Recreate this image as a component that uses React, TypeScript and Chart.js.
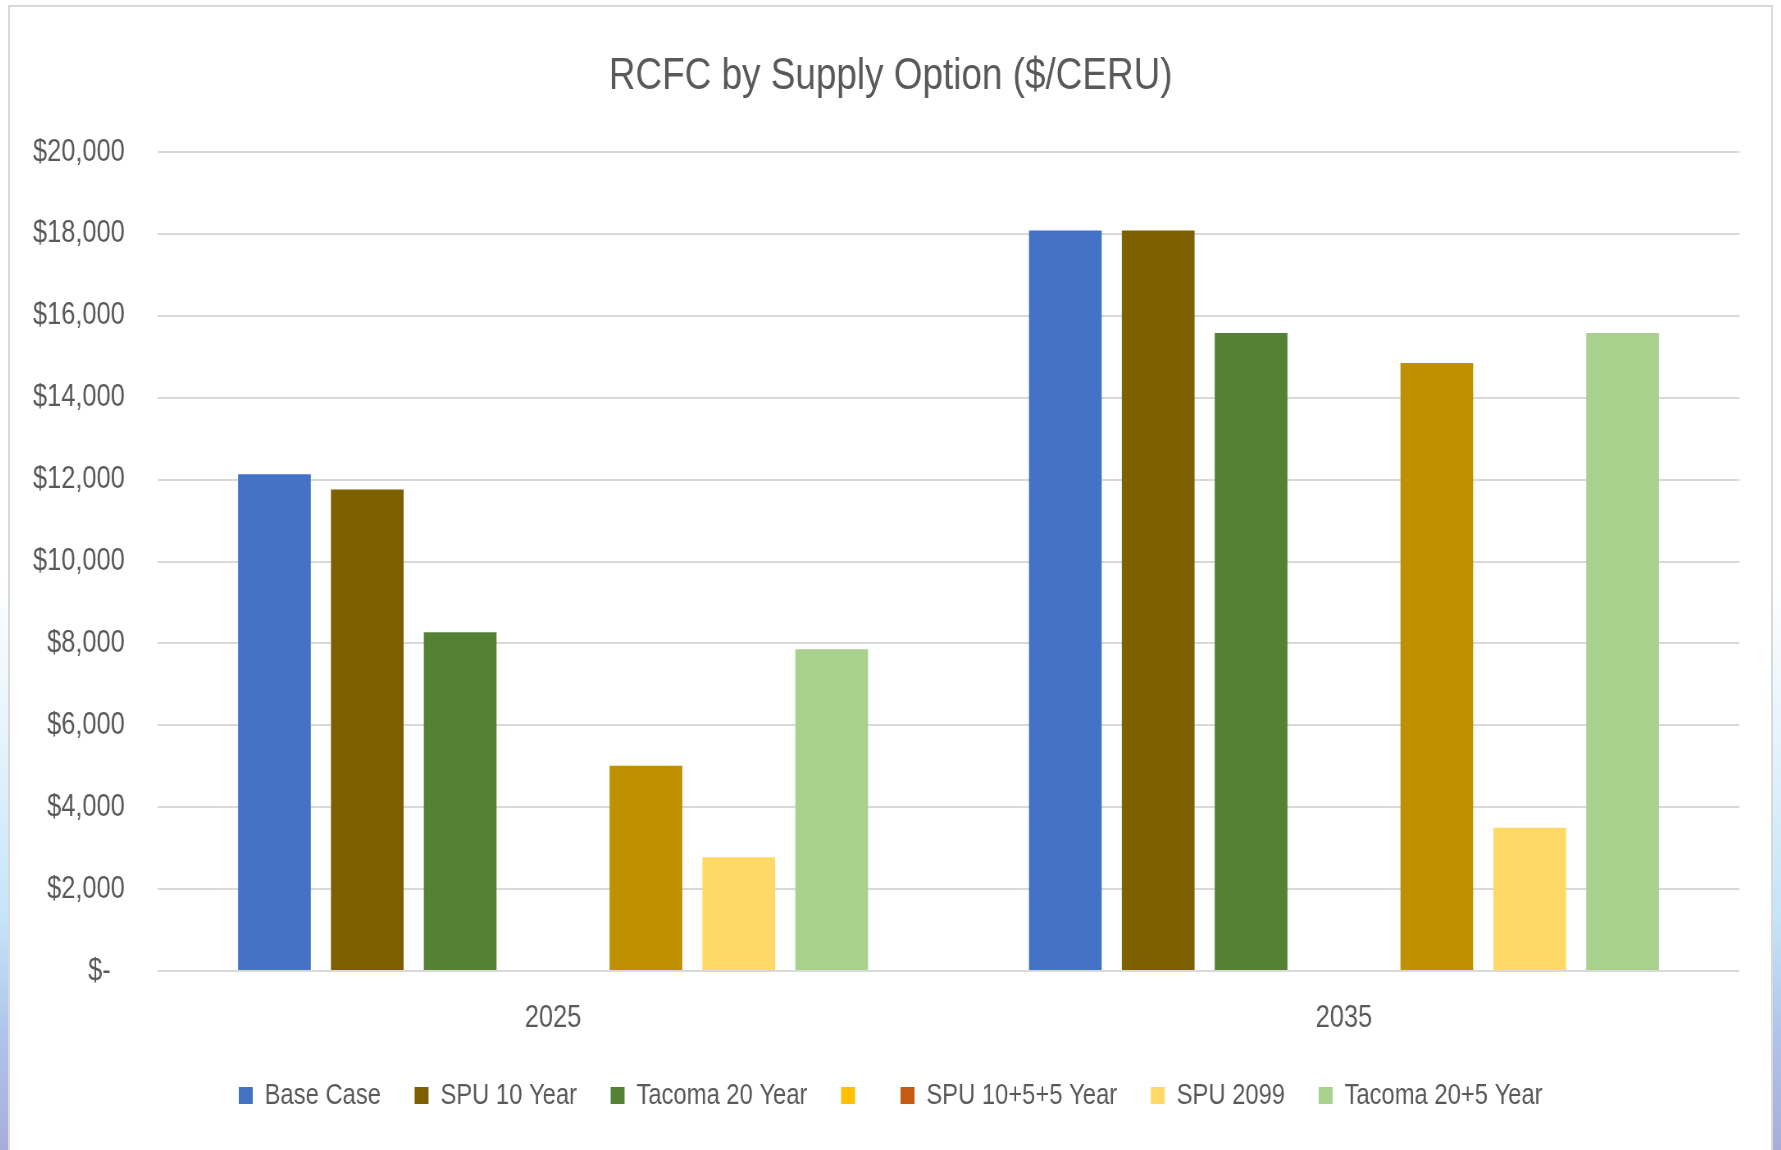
import React, { useEffect, useRef } from "react";
import { Chart, registerables } from "chart.js";

Chart.register(...registerables);

const categories = ["2025", "2035"];
const seriesLabels = ["Base Case", "SPU 10 Year", "Tacoma 20 Year", "", "SPU 10+5+5 Year", "SPU 2099", "Tacoma 20+5 Year"];
const baseCase = [12130, 18080];
const spu10Year = [11760, 18080];
const tacoma20Year = [8275, 15580];
const blankSeries: (number | null)[] = [null, null];
const spu1055Year = [5010, 14850];
const spu2099 = [2780, 3500];
const tacoma205Year = [7855, 15580];
const barColors = ["#4472C4", "#7F6000", "#548235", "#FFC000", "#BF9000", "#FFD966", "#A9D18E"];
const legendColors = ["#4472C4", "#7F6000", "#548235", "#FFC000", "#C55A11", "#FFD966", "#A9D18E"];
const yTicks = [0, 2000, 4000, 6000, 8000, 10000, 12000, 14000, 16000, 18000, 20000];

// Text in the reference is a narrow face; the canvas is drawn wide and squeezed horizontally.
const SQUEEZE = 0.82;
const FONT = "'Liberation Sans', Arial, sans-serif";
const TEXT = "#595959";
const CANVAS_W = Math.round(1761 / SQUEEZE);
const CANVAS_H = 1143;
const SIDE_PAD = Math.round(32 / SQUEEZE);

function fmt(v: number): string {
  if (v === 0) return "$-  ";
  return "$" + v.toLocaleString("en-US");
}

export default function App() {
  const ref = useRef<HTMLCanvasElement | null>(null);
  useEffect(() => {
    if (!ref.current) return;
    const seriesData = [baseCase, spu10Year, tacoma20Year, blankSeries, spu1055Year, spu2099, tacoma205Year];
    const chart = new Chart(ref.current, {
      type: "bar",
      data: {
        labels: categories,
        datasets: seriesData.map((d, i) => ({
          label: seriesLabels[i],
          data: d,
          backgroundColor: barColors[i],
          borderWidth: 0,
          categoryPercentage: 0.822,
          barPercentage: 0.783,
          yAxisID: "y",
        })),
      },
      options: {
        animation: false,
        responsive: false,
        layout: { padding: { left: 0, right: 0, top: 0, bottom: 30 } },
        plugins: {
          title: {
            display: true,
            text: "RCFC by Supply Option ($/CERU)",
            color: TEXT,
            font: { family: FONT, size: 45, weight: "normal" },
            padding: { top: 43, bottom: 48 },
          },
          legend: {
            position: "bottom",
            labels: {
              color: TEXT,
              font: { family: FONT, size: 29 },
              boxWidth: Math.round(14 / SQUEEZE),
              boxHeight: 17,
              padding: 41,
              generateLabels: (c: any) => {
                const items = Chart.defaults.plugins.legend.labels.generateLabels(c);
                return items.map((it: any, i: number) => ({
                  ...it,
                  fillStyle: legendColors[i],
                  strokeStyle: legendColors[i],
                  lineWidth: 0,
                }));
              },
            },
          },
          tooltip: { enabled: false },
        },
        scales: {
          x: {
            grid: { display: false },
            border: { display: false },
            ticks: { color: TEXT, font: { family: FONT, size: 31 }, padding: 21 },
            afterFit: (s: any) => {
              s.height = 69;
            },
          },
          y: {
            min: 0,
            max: 20000,
            afterBuildTicks: (s: any) => {
              s.ticks = yTicks.map((v) => ({ value: v }));
            },
            grid: { color: "#D9D9D9", lineWidth: 2, drawTicks: false },
            border: { display: false },
            ticks: {
              color: TEXT,
              font: { family: FONT, size: 31 },
              padding: Math.round(33 / SQUEEZE),
              callback: (v: any) => fmt(Number(v)),
            },
            afterFit: (s: any) => {
              s.width = Math.round(148 / SQUEEZE);
            },
          },
          spacer: {
            type: "linear",
            position: "right",
            display: true,
            grid: { display: false },
            border: { display: false },
            ticks: { display: false },
            afterFit: (s: any) => {
              s.width = SIDE_PAD;
            },
          },
        },
      },
    });
    return () => chart.destroy();
  }, []);

  return (
    <div
      style={{
        position: "fixed",
        left: 0,
        top: 0,
        width: 1781,
        height: 1150,
        overflow: "hidden",
        background:
          "linear-gradient(180deg, #ffffff 0%, #ffffff 50%, #e3f3fc 65%, #c4e4f8 80%, #b0c4ea 90%, #a6aed8 100%)",
      }}
    >
      <div
        style={{
          position: "absolute",
          left: 8,
          top: 5,
          width: 1761,
          height: 1160,
          border: "2px solid #D9D9D9",
          background: "#ffffff",
          overflow: "hidden",
        }}
      >
        <canvas
          ref={ref}
          width={CANVAS_W}
          height={CANVAS_H}
          style={{ display: "block", transform: `scaleX(${SQUEEZE})`, transformOrigin: "0 0" }}
        />
      </div>
    </div>
  );
}
